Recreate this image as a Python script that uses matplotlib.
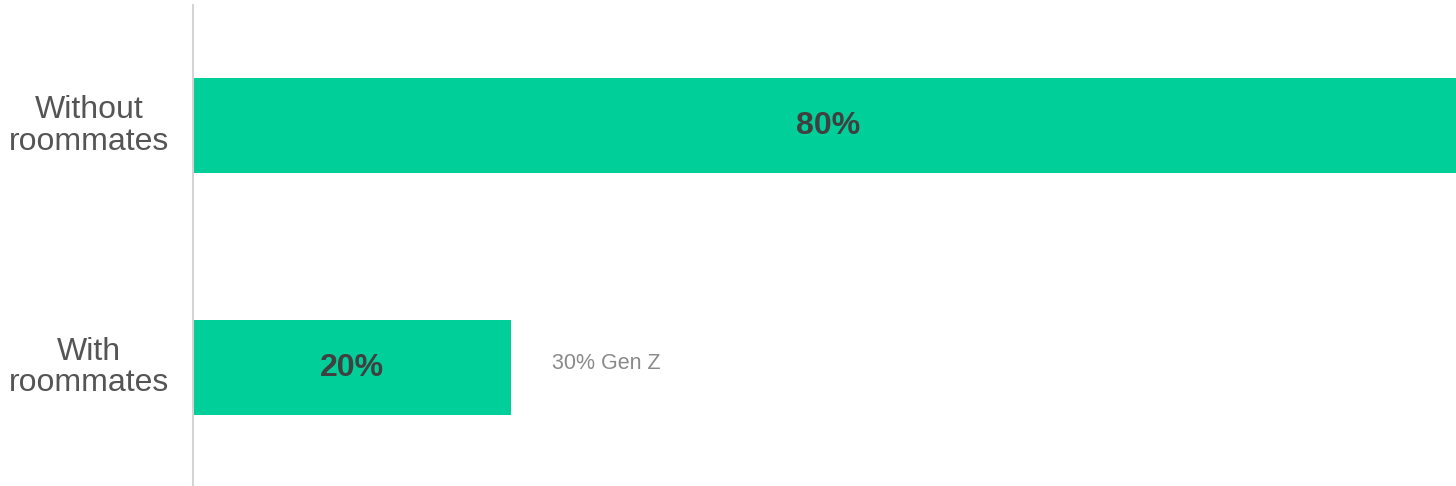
import matplotlib.pyplot as plt
from matplotlib.transforms import blended_transform_factory

plt.rcParams['font.family'] = ['Liberation Sans', 'DejaVu Sans']

# data
categories = ["With\nroommates", "Without\nroommates"]
values = [20, 80]
bar_labels = ["20%", "80%"]
note_text = "30% Gen Z"
note_index = 0

BAR_COLOR = "#00CF9A"

fig = plt.figure(figsize=(14.56, 4.86), dpi=100)
ax = fig.add_axes([193 / 1456, 0.0, 1 - 193 / 1456, 481 / 486])

y = list(range(len(categories)))
ax.barh(y, values, height=0.393, color=BAR_COLOR, edgecolor="none")

ax.set_xlim(0, 79.5)
ax.set_ylim(-0.49, 1.5)

for s in ["top", "right", "bottom"]:
    ax.spines[s].set_visible(False)
ax.spines["left"].set_color("#d4d4d4")
ax.spines["left"].set_linewidth(1.5)
ax.set_xticks([])
ax.set_yticks([])

# category labels, centred left of the axis
trans = blended_transform_factory(ax.transAxes, ax.transData)
for yi, cat in zip(y, categories):
    ax.text(-104 / 1263, yi, cat, transform=trans, ha="center", va="center",
            fontsize=23, color="#555555", linespacing=1.08)

# value labels inside the bars
for yi, v, lab in zip(y, values, bar_labels):
    ax.text(v / 2, yi, lab, ha="center", va="center", fontsize=23,
            fontweight="bold", color="#404040")

# note next to the short bar
ax.annotate(note_text, xy=(values[note_index], y[note_index]),
            xytext=(29.5, 3), textcoords="offset points",
            ha="left", va="center", fontsize=15.5, color="#8a8a8a")

fig.savefig("out.png", dpi=100)
